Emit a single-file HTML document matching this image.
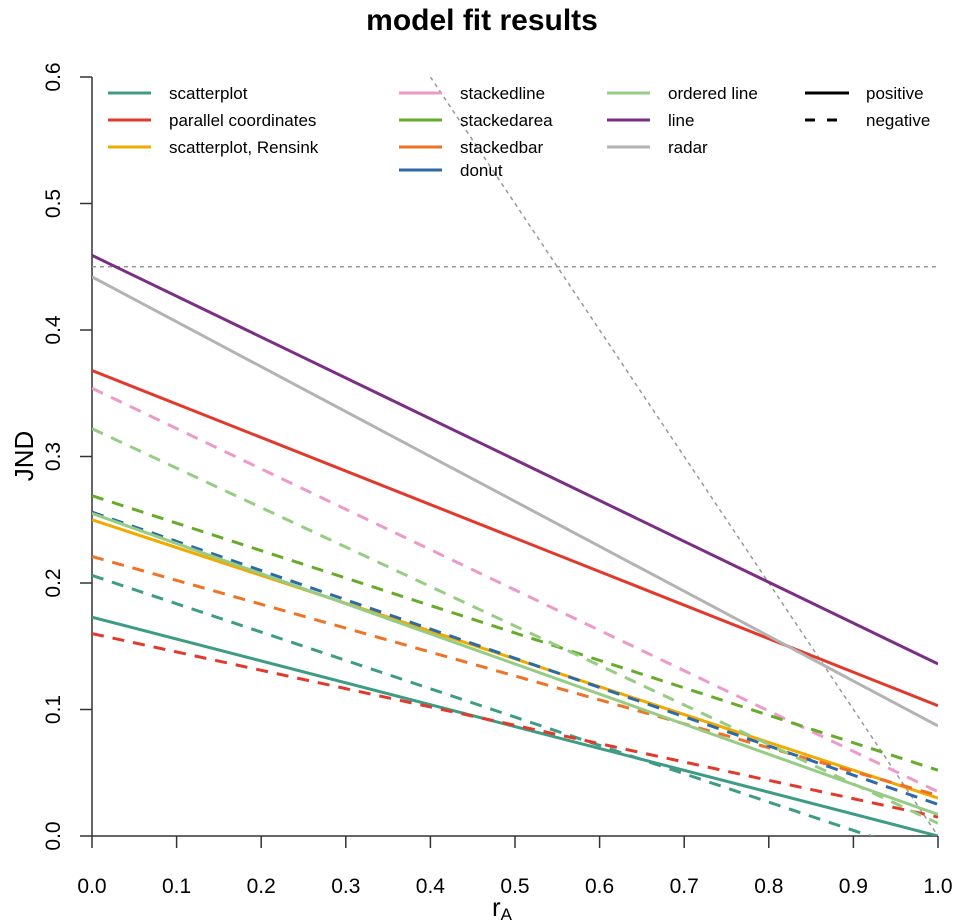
<!DOCTYPE html>
<html><head><meta charset="utf-8"><style>
body{margin:0;background:#fff;}
svg{display:block;font-family:"Liberation Sans",sans-serif;}
</style></head><body>
<svg id="chart" width="964" height="923">
<defs><clipPath id="plotclip"><rect x="92" y="77" width="846" height="759"/></clipPath></defs>
<text x="482" y="30" text-anchor="middle" font-size="30" font-weight="bold">model fit results</text>
<g id="axes"></g>
<g id="series" clip-path="url(#plotclip)"></g>
<g id="legend"></g>
</svg>
<script>
const xTicks=[0,0.1,0.2,0.3,0.4,0.5,0.6,0.7,0.8,0.9,1.0];
const yTicks=[0,0.1,0.2,0.3,0.4,0.5,0.6];
const seriesNames=["scatterplot pos","scatterplot neg","parallel pos","parallel neg","rensink pos","stackedline neg","stackedarea neg","stackedbar neg","donut neg","orderedline pos","orderedline neg","line pos","radar pos"];
const seriesColors=["#3f9c84","#3f9c84","#e2392d","#e2392d","#f2a900","#ee9ac8","#66ab2a","#ee7326","#2d6aa6","#96cc84","#96cc84","#7a2f84","#b3b3b3"];
const seriesDashed=[false,true,false,true,false,true,true,true,true,false,true,false,false];
const startValues=[0.173,0.206,0.368,0.160,0.250,0.354,0.269,0.221,0.256,0.255,0.322,0.459,0.442];
const endValues=[0.0,-0.018,0.103,0.015,0.030,0.035,0.052,0.032,0.025,0.017,0.010,0.136,0.087];
const refHorizontal=[0.45];
const refDiagonalX=[0.4,1.0];
const refDiagonalY=[0.6,0.0];
const legendLabels=["scatterplot","parallel coordinates","scatterplot, Rensink","stackedline","stackedarea","stackedbar","donut","ordered line","line","radar"];
const legendColors=["#3f9c84","#e2392d","#f2a900","#ee9ac8","#66ab2a","#ee7326","#2d6aa6","#96cc84","#7a2f84","#b3b3b3"];

const NS="http://www.w3.org/2000/svg";
function X(v){return 92+v*846;}
function Y(v){return 836-v*1265;}
function mk(tag,attrs,parent){const e=document.createElementNS(NS,tag);for(const k in attrs)e.setAttribute(k,attrs[k]);parent.appendChild(e);return e;}
const axes=document.getElementById('axes'),ser=document.getElementById('series'),leg=document.getElementById('legend');

let a=mk('line',{x1:92,y1:Y(0),x2:92,y2:Y(0.6),stroke:'#333','stroke-width':1.5},axes);


a=mk('line',{x1:X(0),y1:836,x2:X(1),y2:836,stroke:'#333','stroke-width':1.5},axes);


xTicks.forEach(t=>{
 const l=mk('line',{x1:X(t),y1:836,x2:X(t),y2:848,stroke:'#333','stroke-width':1.5},axes);
 
 
 const tx=mk('text',{x:X(t),y:893,'text-anchor':'middle','font-size':21},axes);tx.textContent=t.toFixed(1);
 
 
});
yTicks.forEach(t=>{
 const l=mk('line',{x1:80,y1:Y(t),x2:92,y2:Y(t),stroke:'#333','stroke-width':1.5},axes);
 
 
 const tx=mk('text',{x:0,y:0,'text-anchor':'middle','font-size':21,transform:`translate(60,${Y(t)}) rotate(-90)`},axes);tx.textContent=t.toFixed(1);
 
 
});
let t=mk('text',{x:0,y:0,'text-anchor':'middle','font-size':26,transform:'translate(33,456) rotate(-90)'},axes);t.textContent='JND';


t=mk('text',{x:502,y:916,'text-anchor':'middle','font-size':26},axes);
t.innerHTML='r<tspan font-size="17" dy="4">A</tspan>';



refHorizontal.forEach(v=>{
 const l=mk('line',{x1:X(0),y1:Y(v),x2:X(1),y2:Y(v),stroke:'#999','stroke-width':1.5,'stroke-dasharray':'4 4'},ser);
 
 
});
let d=mk('line',{x1:X(refDiagonalX[0]),y1:Y(refDiagonalY[0]),x2:X(refDiagonalX[1]),y2:Y(refDiagonalY[1]),stroke:'#999','stroke-width':1.5,'stroke-dasharray':'4 4'},ser);



seriesNames.forEach((n,i)=>{
 const l=mk('line',{x1:X(0),y1:Y(startValues[i]),x2:X(1),y2:Y(endValues[i]),stroke:seriesColors[i],'stroke-width':3},ser);
 if(seriesDashed[i])l.setAttribute('stroke-dasharray','12 9');
 
 
});

const colX=[108,399,607];const textX=[169,460,668];
const colItems=[[0,1,2],[3,4,5,6],[7,8,9]];
const rowY=[93,120,147,170];
colItems.forEach((items,c)=>{items.forEach((idx,r)=>{
 const g=mk('g',{},leg);
 
 
 mk('line',{x1:colX[c],y1:rowY[r],x2:colX[c]+43,y2:rowY[r],stroke:legendColors[idx],'stroke-width':3},g);
 const tx=mk('text',{x:textX[c],y:rowY[r]+6,'font-size':17},g);tx.textContent=legendLabels[idx];
});});
[['positive',false],['negative',true]].forEach((p,r)=>{
 const g=mk('g',{},leg);
 
 
 const l=mk('line',{x1:805,y1:rowY[r],x2:849,y2:rowY[r],stroke:'#000','stroke-width':3},g);
 if(p[1])l.setAttribute('stroke-dasharray','10 12');
 const tx=mk('text',{x:866,y:rowY[r]+6,'font-size':17},g);tx.textContent=p[0];
});
</script>
</body></html>
